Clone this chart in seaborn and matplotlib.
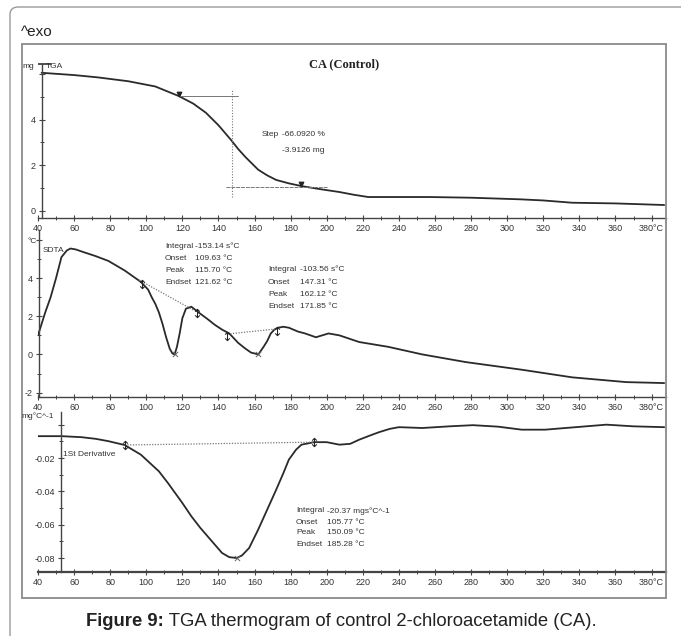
import numpy as np
import pandas as pd
import matplotlib
matplotlib.use('Agg')
import matplotlib.pyplot as plt
from matplotlib.patches import FancyBboxPatch, Rectangle
from matplotlib.ticker import MultipleLocator, FixedLocator
import seaborn as sns

sns.set_theme(style='white')
plt.rcParams['font.family'] = ['Liberation Sans', 'DejaVu Sans']

# ---------- data ----------
# TGA (mg)
tga_T = [42, 60, 73, 90, 105, 118, 126, 133, 140, 147, 151, 155, 162, 167, 172, 179, 186, 196, 207,
         215, 223, 240, 257, 280, 307, 320, 336, 360, 387]
tga_m = [6.05, 5.95, 5.85, 5.68, 5.45, 5.03, 4.7, 4.3, 3.75, 3.1, 2.7, 2.35, 1.8, 1.55, 1.35, 1.2, 1.08, 0.95, 0.82,
         0.7, 0.6, 0.6, 0.6, 0.57, 0.5, 0.45, 0.35, 0.32, 0.25]
step_top_T = [118, 151]
step_top_m = [5.03, 5.03]
step_vert_T = [147.5, 147.5]
step_vert_m = [0.6, 5.35]
step_low_T = [144, 200]
step_low_m = [1.04, 1.04]
tga_mark_T = [118, 186]
tga_mark_m = [5.1, 1.15]

# SDTA (°C)
sdta_T = [40, 44, 47, 50, 53, 56, 58, 61, 64, 72, 79, 88, 97, 101, 103, 105, 107, 109, 111, 113, 114.5, 115.7,
          117, 118.5, 120, 122, 125, 129, 134, 138, 142, 146, 151, 155, 158, 162.1, 165, 167, 169, 171, 173,
          176, 179, 184, 188, 194, 201, 207, 218, 234, 253, 277, 308, 336, 366, 387]
sdta_v = [1.0, 2.2, 3.0, 4.0, 5.1, 5.45, 5.55, 5.5, 5.4, 5.15, 4.9, 4.4, 3.8, 3.4, 3.0, 2.65, 2.2, 1.6, 0.9, 0.3, 0.05, 0.0,
          0.4, 1.1, 1.9, 2.4, 2.5, 2.2, 1.85, 1.55, 1.3, 1.1, 0.6, 0.3, 0.1, 0.0, 0.4, 0.7, 1.1, 1.3, 1.4,
          1.45, 1.4, 1.2, 1.1, 0.9, 1.1, 1.0, 0.65, 0.4, 0.0, -0.4, -0.8, -1.2, -1.45, -1.5]
sdta_base1_T = [96, 126]
sdta_base1_v = [3.9, 2.33]
sdta_base2_T = [145, 172.5]
sdta_base2_v = [1.07, 1.34]
sdta_mark_T = [97.7, 128, 145, 172.5]
sdta_mark_v = [3.7, 2.15, 0.95, 1.25]
sdta_peak_T = [115.7, 162.1]
sdta_peak_v = [0.0, 0.0]

# 1st derivative (mg°C^-1)
dtg_T = [40, 53, 64, 72, 79, 88, 97, 102, 107, 112, 116, 120, 125, 130, 134, 138, 142, 146, 150.1, 153, 157,
         162, 167, 172, 176, 179, 183, 186, 193, 200, 207, 213, 218, 224, 229, 235, 240, 253, 268, 281, 295,
         308, 321, 338, 355, 370, 387]
dtg_v = [-0.0069, -0.0069, -0.0075, -0.0085, -0.0099, -0.0122, -0.018, -0.023, -0.028, -0.035, -0.041, -0.047,
         -0.055, -0.062, -0.067, -0.072, -0.077, -0.0795, -0.080, -0.0785, -0.074, -0.063, -0.051, -0.039,
         -0.029, -0.021, -0.015, -0.012, -0.0105, -0.0105, -0.012, -0.0115, -0.009, -0.0065, -0.0045, -0.0025,
         -0.0015, -0.002, -0.001, -0.0003, -0.0012, -0.003, -0.003, -0.0015, 0.0, -0.001, -0.0015]
dtg_base_T = [88, 193]
dtg_base_v = [-0.0122, -0.0105]
dtg_mark_T = [88, 193]
dtg_mark_v = [-0.0122, -0.0105]
dtg_peak_T = [150.1]
dtg_peak_v = [-0.080]

x_major = list(range(40, 381, 20))
x_labels = [str(t) for t in x_major[:-1]] + ['380°C']

W, H = 681, 636
fig = plt.figure(figsize=(W / 100, H / 100), dpi=100)
fig.patch.set_facecolor('white')


def px(x, y):
    return x / W, 1 - y / H


def make_ax(top, bottom, ylim, spine_T):
    ax = fig.add_axes([38 / W, 1 - bottom / H, (666 - 38) / W, (bottom - top) / H])
    ax.set_facecolor('none')
    ax.set_xlim(40, 388)
    ax.set_ylim(*ylim)
    for s in ['top', 'right']:
        ax.spines[s].set_visible(False)
    for s in ['left', 'bottom']:
        ax.spines[s].set_color('#444444')
        ax.spines[s].set_linewidth(1.0)
    ax.spines['left'].set_position(('data', spine_T))
    ax.xaxis.set_major_locator(FixedLocator(x_major))
    ax.set_xticklabels(x_labels)
    ax.xaxis.set_minor_locator(MultipleLocator(10))
    ax.tick_params(axis='both', which='major', direction='inout', length=5, width=0.8,
                   colors='#444444', labelsize=6.5, labelcolor='#333333', pad=2,
                   bottom=True, left=True)
    ax.tick_params(axis='both', which='minor', direction='inout', length=3, width=0.7,
                   colors='#444444', bottom=True, left=True)
    ax.grid(False)
    return ax


line_c = '#2a2a2a'

# ---------- TGA panel ----------
ax1 = make_ax(50, 218, (-0.32, 7.05), 42)
ax1.set_yticks([0, 2, 4, 6])
ax1.set_yticklabels(['0', '2', '4', ''])
ax1.yaxis.set_minor_locator(FixedLocator([1, 3, 5]))
ax1.spines['left'].set_bounds(-0.32, 6.45)
sns.lineplot(x=tga_T, y=tga_m, ax=ax1, color=line_c, linewidth=1.3, sort=False)
ax1.plot(step_top_T, step_top_m, color='#777777', linewidth=0.7)
ax1.plot(step_low_T, step_low_m, color='#777777', linewidth=0.7, linestyle=(0, (4, 1)))
ax1.plot(step_vert_T, step_vert_m, color='#777777', linewidth=0.8, linestyle=(0, (1, 1.5)))
ax1.scatter(tga_mark_T, tga_mark_m, marker='v', s=10, color='#222222', zorder=5)
ax1.plot([40, 47], [6.42, 6.42], color='#333333', linewidth=1.2)

# ---------- SDTA panel ----------
ax2 = make_ax(230, 397, (-2.23, 6.52), 40.5)
ax2.set_yticks([-2, 0, 2, 4, 6])
ax2.set_yticklabels(['-2', '0', '2', '4', ''])
ax2.yaxis.set_minor_locator(FixedLocator([-1, 1, 3, 5]))
sns.lineplot(x=sdta_T, y=sdta_v, ax=ax2, color=line_c, linewidth=1.3, sort=False)
ax2.plot(sdta_base1_T, sdta_base1_v, color='#777777', linewidth=0.9, linestyle=(0, (1, 1.2)))
ax2.plot(sdta_base2_T, sdta_base2_v, color='#777777', linewidth=0.9, linestyle=(0, (1, 1.2)))
ax2.scatter(sdta_mark_T, sdta_mark_v, marker=r'$\updownarrow$', s=45, color='#222222', zorder=5, linewidths=0)
ax2.scatter(sdta_peak_T, sdta_peak_v, marker='x', s=14, color='#666666', linewidths=0.7, zorder=5)

# ---------- derivative panel ----------
ax3 = make_ax(412, 572, (-0.0884, 0.0076), 53)
ax3.set_yticks([-0.08, -0.06, -0.04, -0.02, 0.0])
ax3.set_yticklabels(['-0.08', '-0.06', '-0.04', '-0.02', ''])
ax3.yaxis.set_minor_locator(FixedLocator([-0.07, -0.05, -0.03, -0.01]))
ax3.spines['bottom'].set_linewidth(1.6)
sns.lineplot(x=dtg_T, y=dtg_v, ax=ax3, color=line_c, linewidth=1.3, sort=False)
ax3.plot(dtg_base_T, dtg_base_v, color='#777777', linewidth=0.9, linestyle=(0, (1, 1.2)))
ax3.scatter(dtg_mark_T, dtg_mark_v, marker=r'$\updownarrow$', s=45, color='#222222', zorder=5, linewidths=0)
ax3.scatter(dtg_peak_T, dtg_peak_v, marker='x', s=14, color='#666666', linewidths=0.7, zorder=5)

# ---------- frames ----------
outer = FancyBboxPatch((10 / W, -0.05), 1.2, 1 - 7 / H + 0.05, transform=fig.transFigure,
                       boxstyle='round,pad=0,rounding_size=0.012', facecolor='none',
                       edgecolor='#9a9a9a', linewidth=1.0)
fig.patches.append(outer)
inner = Rectangle(px(22, 598), (666 - 22) / W, (598 - 44) / H, transform=fig.transFigure,
                  facecolor='none', edgecolor='#8a8a8a', linewidth=1.3)
fig.patches.append(inner)

# ---------- texts ----------
small = dict(fontsize=6, color='#333333', va='center')
fig.text(*px(21, 32), '^exo', fontsize=11, color='#222222', va='center', ha='left')
fig.text(*px(344, 64), 'CA (Control)', fontsize=9, fontweight='bold', family='Liberation Serif',
         color='#222222', ha='center', va='center')
fig.text(*px(22, 67), 'mg', ha='left', **small)
fig.text(*px(46, 67), 'TGA', ha='left', **small)
fig.text(*px(262, 135), 'Step', ha='left', **small)
fig.text(*px(282, 135), '-66.0920 %', ha='left', **small)
fig.text(*px(282, 151), '-3.9126 mg', ha='left', **small)

fig.text(*px(27, 241), '°C', ha='left', **small)
fig.text(*px(43, 250), 'SDTA', ha='left', **small)

block1 = [('Integral', '-153.14 s°C'), ('Onset', '109.63 °C'), ('Peak', '115.70 °C'), ('Endset', '121.62 °C')]
for (lab, val), yy in zip(block1, [246, 258, 271, 283]):
    fig.text(*px(165, yy), lab, ha='left', **small)
    fig.text(*px(195, yy), val, ha='left', **small)

block2 = [('Integral', '-103.56 s°C'), ('Onset', '147.31 °C'), ('Peak', '162.12 °C'), ('Endset', '171.85 °C')]
for (lab, val), yy in zip(block2, [269, 282, 295, 307]):
    fig.text(*px(268, yy), lab, ha='left', **small)
    fig.text(*px(300, yy), val, ha='left', **small)

fig.text(*px(21, 416), 'mg°C^-1', ha='left', **small)
fig.text(*px(63, 455), '1St Derivative', ha='left', **small)

block3 = [('Integral', '-20.37 mgs°C^-1'), ('Onset', '105.77 °C'), ('Peak', '150.09 °C'), ('Endset', '185.28 °C')]
for (lab, val), yy in zip(block3, [511, 522, 533, 544]):
    fig.text(*px(296, yy), lab, ha='left', **small)
    fig.text(*px(327, yy), val, ha='left', **small)

# caption: bold lead-in followed by the regular text
lead = fig.text(*px(86, 621), 'Figure 9:', fontsize=13.3, fontweight='bold', color='#222222',
                ha='left', va='center')
rest = fig.text(0, 0, ' TGA thermogram of control 2-chloroacetamide (CA).', fontsize=13.3,
                color='#222222', ha='left', va='bottom')
fig.canvas.draw()
bb = lead.get_window_extent()
rest.set_transform(matplotlib.transforms.IdentityTransform())
rest.set_position((bb.x1, bb.y0))

fig.savefig('out.png', dpi=100)
